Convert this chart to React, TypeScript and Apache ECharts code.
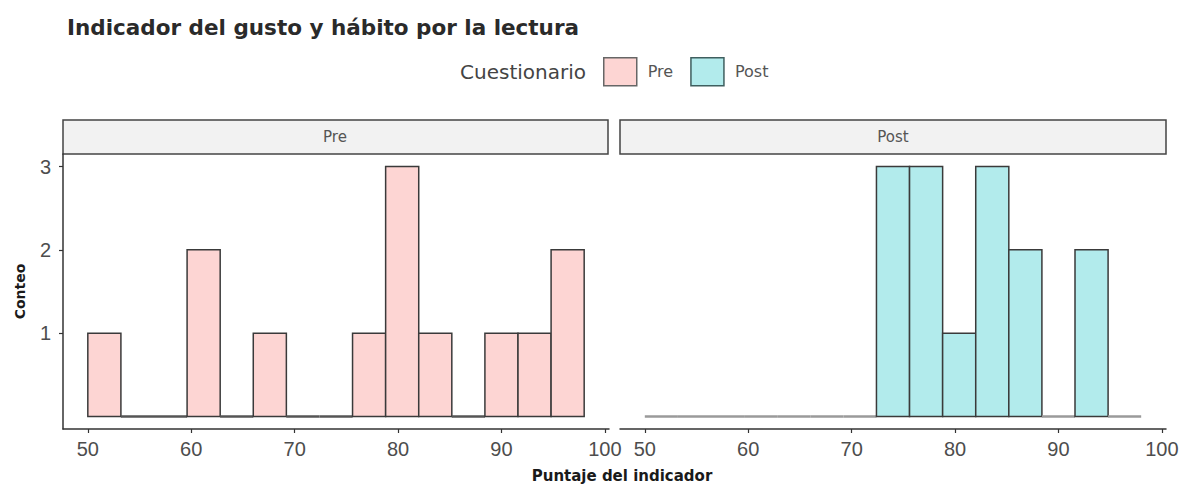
import React, { useEffect, useRef } from "react";
import * as echarts from "echarts";

const binStarts = [50, 53.2, 56.4, 59.6, 62.8, 66, 69.2, 72.4, 75.6, 78.8, 82, 85.2, 88.4, 91.6, 94.8];
const binEnds = [53.2, 56.4, 59.6, 62.8, 66, 69.2, 72.4, 75.6, 78.8, 82, 85.2, 88.4, 91.6, 94.8, 98];
const preCounts = [1, 0, 0, 2, 0, 1, 0, 0, 1, 3, 1, 0, 1, 1, 2];
const postCounts = [0, 0, 0, 0, 0, 0, 0, 3, 3, 1, 3, 2, 0, 2, 0];
const xTicks = [50, 60, 70, 80, 90, 100];
const yTicks = [1, 2, 3];
const groups = ["Pre", "Post"];
const fills = ["#FDD5D3", "#B2EBEC"];
const zeroStrokes = ["#555555", "#9a9a9a"];

const SANS = "DejaVu Sans, Verdana, sans-serif";
const ARIAL = "Liberation Sans, Arial, sans-serif";

export default function App() {
  const ref = useRef<HTMLDivElement>(null);
  useEffect(() => {
    if (!ref.current) return;
    const chart = echarts.init(ref.current, null, { renderer: "svg" });

    const mkData = (counts: number[]) => binStarts.map((s, i) => [s, binEnds[i], counts[i]]);

    const mkSeries = (idx: number, counts: number[]) => ({
      type: "custom",
      name: groups[idx],
      xAxisIndex: idx,
      yAxisIndex: idx,
      itemStyle: { color: fills[idx], borderColor: "#444", borderWidth: 1.5 },
      data: mkData(counts),
      renderItem: (params: any, api: any) => {
        const x0 = api.value(0);
        const x1 = api.value(1);
        const c = api.value(2);
        const p0 = api.coord([x0, 0]);
        const p1 = api.coord([x1, c]);
        if (c === 0) {
          return {
            type: "line",
            shape: { x1: p0[0], y1: p0[1], x2: p1[0], y2: p0[1] },
            style: { stroke: zeroStrokes[idx], lineWidth: 2.5 },
          };
        }
        return {
          type: "rect",
          shape: { x: p0[0], y: p1[1], width: p1[0] - p0[0], height: p0[1] - p1[1] },
          style: { fill: fills[idx], stroke: "#3a3a3a", lineWidth: 1.5 },
        };
      },
    });

    const xAxisCommon = {
      type: "value",
      min: 47.6,
      max: 100.4,
      axisLine: { show: true, onZero: false, lineStyle: { color: "#333", width: 1.5 } },
      axisTick: { show: true, customValues: xTicks, length: 4, lineStyle: { color: "#333", width: 1.2 } },
      axisLabel: { customValues: xTicks, fontSize: 20, color: "#4d4d4d", fontFamily: ARIAL, margin: 10 },
      splitLine: { show: false },
    };

    chart.setOption({
      animation: false,
      backgroundColor: "#ffffff",
      title: {
        text: "Indicador del gusto y hábito por la lectura",
        left: 62,
        top: 11,
        textStyle: { fontSize: 21.5, fontWeight: "bold", color: "#2a2a2a", fontFamily: SANS },
      },
      legend: {
        data: [
          { name: "Pre", itemStyle: { color: fills[0], borderColor: "#666", borderWidth: 1.5 } },
          { name: "Post", itemStyle: { color: fills[1], borderColor: "#3f5f5f", borderWidth: 1.5 } },
        ],
        left: 603,
        top: 57,
        padding: 0,
        icon: "rect",
        itemWidth: 33,
        itemHeight: 28,
        itemGap: 17,
        textStyle: { fontSize: 16, color: "#555", fontFamily: SANS, padding: [0, 0, 0, 6] },
      },
      grid: [
        { left: 63, top: 154, width: 546, height: 275 },
        { left: 620, top: 154, width: 546, height: 275 },
      ],
      xAxis: [
        { ...xAxisCommon, gridIndex: 0 },
        { ...xAxisCommon, gridIndex: 1 },
      ],
      yAxis: [
        {
          type: "value",
          gridIndex: 0,
          min: -0.15,
          max: 3.15,
          name: "Conteo",
          nameLocation: "middle",
          nameRotate: 90,
          nameGap: 36,
          nameTextStyle: { fontSize: 14, fontWeight: "bold", color: "#1a1a1a", fontFamily: SANS },
          axisLine: { show: true, onZero: false, lineStyle: { color: "#333", width: 1.5 } },
          axisTick: { show: true, customValues: yTicks, length: 4, lineStyle: { color: "#333", width: 1.2 } },
          axisLabel: { customValues: yTicks, fontSize: 20, color: "#4d4d4d", fontFamily: ARIAL, margin: 12 },
          splitLine: { show: false },
        },
        {
          type: "value",
          gridIndex: 1,
          min: -0.15,
          max: 3.15,
          axisLine: { show: false },
          axisTick: { show: false },
          axisLabel: { show: false },
          splitLine: { show: false },
        },
      ],
      graphic: [
        {
          type: "text",
          x: 586,
          y: 72,
          style: {
            text: "Cuestionario",
            fontSize: 20,
            fill: "#444",
            fontFamily: SANS,
            align: "right",
            verticalAlign: "middle",
          },
        },
        {
          type: "rect",
          shape: { x: 63, y: 120, width: 545, height: 34 },
          style: { fill: "#F2F2F2", stroke: "#444", lineWidth: 1.5 },
        },
        {
          type: "text",
          x: 335,
          y: 137,
          style: { text: groups[0], fontSize: 15, fill: "#555", fontFamily: SANS, align: "center", verticalAlign: "middle" },
        },
        {
          type: "rect",
          shape: { x: 620, y: 120, width: 546, height: 34 },
          style: { fill: "#F2F2F2", stroke: "#444", lineWidth: 1.5 },
        },
        {
          type: "text",
          x: 893,
          y: 137,
          style: { text: groups[1], fontSize: 15, fill: "#555", fontFamily: SANS, align: "center", verticalAlign: "middle" },
        },
        {
          type: "text",
          x: 622,
          y: 476,
          style: {
            text: "Puntaje del indicador",
            fontSize: 15,
            fontWeight: "bold",
            fill: "#1a1a1a",
            fontFamily: SANS,
            align: "center",
            verticalAlign: "middle",
          },
        },
      ],
      series: [mkSeries(0, preCounts), mkSeries(1, postCounts)],
    });

    return () => chart.dispose();
  }, []);

  return (
    <div
      ref={ref}
      style={{ position: "absolute", left: 0, top: 0, width: 1187, height: 489 }}
    />
  );
}
